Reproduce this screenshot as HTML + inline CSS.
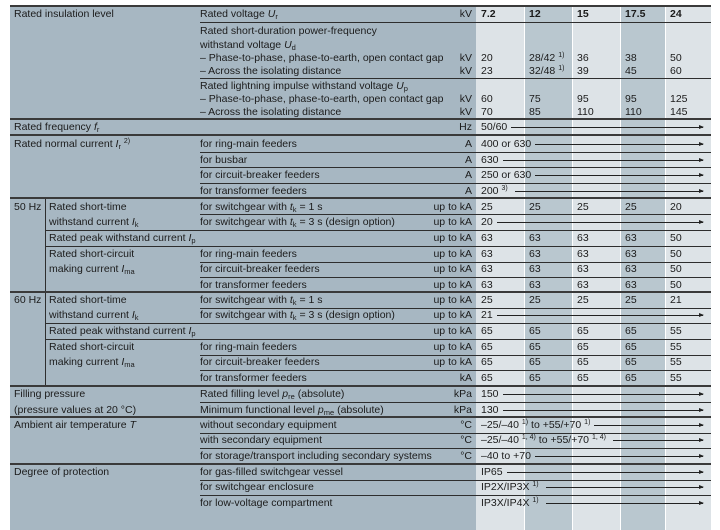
<!DOCTYPE html>
<html><head><meta charset="utf-8"><style>
*{margin:0;padding:0;box-sizing:border-box}
body{width:720px;height:530px;background:#fff;position:relative;overflow:hidden;font-family:"Liberation Sans",sans-serif;font-size:10.5px;color:#1b1b1b}
.b{position:absolute}
.t{position:absolute;white-space:nowrap;line-height:14px;height:14px}
.r{position:absolute;white-space:nowrap;line-height:14px;height:14px;right:248px;text-align:right}
.h{position:absolute;height:1px;background:#2e2e2e;right:9px}
.m{position:absolute;height:2px;background:#3a3a3a;right:9px;left:10px}
.a{position:absolute;left:481px;width:222px;display:flex;align-items:center;line-height:14px;height:14px;white-space:nowrap}
.a span{white-space:pre}
.a i{flex:1;height:1px;background:#222;margin-left:4px;position:relative}
.a i:after{content:"";position:absolute;right:-1px;top:-2px;border-left:5px solid #222;border-top:2.5px solid transparent;border-bottom:2.5px solid transparent}
sup{font-size:7px;vertical-align:4px;line-height:0}
sub{font-size:7.5px;vertical-align:-2px;line-height:0}
em{font-style:italic}
</style></head><body>
<div class="b" style="left:10px;top:6px;width:466px;height:524px;background:#a7b7c2"></div>
<div class="b" style="left:476px;top:6px;width:48px;height:524px;background:#dde3e7"></div>
<div class="b" style="left:525px;top:6px;width:47px;height:524px;background:#b9c7cf"></div>
<div class="b" style="left:573px;top:6px;width:47px;height:524px;background:#dde3e7"></div>
<div class="b" style="left:621px;top:6px;width:44px;height:524px;background:#b9c7cf"></div>
<div class="b" style="left:666px;top:6px;width:45px;height:524px;background:#dde3e7"></div>
<div class="b" style="left:45px;top:198px;width:1px;height:188px;background:#2e2e2e"></div>

<div class="m" style="top:5px"></div>
<div class="h" style="top:22px;left:200px"></div>
<div class="h" style="top:78px;left:200px"></div>
<div class="m" style="top:118px"></div>
<div class="m" style="top:134px"></div>
<div class="h" style="top:152px;left:200px"></div>
<div class="h" style="top:167px;left:200px"></div>
<div class="h" style="top:183px;left:200px"></div>
<div class="m" style="top:197px"></div>
<div class="h" style="top:214px;left:200px"></div>
<div class="h" style="top:230px;left:45px"></div>
<div class="h" style="top:246px;left:45px"></div>
<div class="h" style="top:262px;left:200px"></div>
<div class="h" style="top:277px;left:200px"></div>
<div class="m" style="top:291px"></div>
<div class="h" style="top:308px;left:200px"></div>
<div class="h" style="top:323px;left:45px"></div>
<div class="h" style="top:339px;left:45px"></div>
<div class="h" style="top:355px;left:200px"></div>
<div class="h" style="top:370px;left:200px"></div>
<div class="m" style="top:385px"></div>
<div class="h" style="top:402px;left:200px"></div>
<div class="m" style="top:416px"></div>
<div class="h" style="top:433px;left:200px"></div>
<div class="h" style="top:448px;left:200px"></div>
<div class="m" style="top:463px"></div>
<div class="h" style="top:480px;left:200px"></div>
<div class="h" style="top:495px;left:200px"></div>

<div class="t" style="left:14px;top:7px">Rated insulation level</div>
<div class="t" style="left:200px;top:7px">Rated voltage <em>U</em><sub>r</sub></div>
<div class="r" style="top:7px">kV</div>
<div class="t" style="left:481px;top:7px;font-weight:bold">7.2</div>
<div class="t" style="left:529px;top:7px;font-weight:bold">12</div>
<div class="t" style="left:577px;top:7px;font-weight:bold">15</div>
<div class="t" style="left:625px;top:7px;font-weight:bold">17.5</div>
<div class="t" style="left:670px;top:7px;font-weight:bold">24</div>

<div class="t" style="left:200px;top:24px">Rated short-duration power-frequency</div>
<div class="t" style="left:200px;top:38px">withstand voltage <em>U</em><sub>d</sub></div>
<div class="t" style="left:200px;top:51px">– Phase-to-phase, phase-to-earth, open contact gap</div>
<div class="r" style="top:51px">kV</div>
<div class="t" style="left:481px;top:51px">20</div><div class="t" style="left:529px;top:51px">28/42 <sup>1)</sup></div><div class="t" style="left:577px;top:51px">36</div><div class="t" style="left:625px;top:51px">38</div><div class="t" style="left:670px;top:51px">50</div>
<div class="t" style="left:200px;top:64px">– Across the isolating distance</div>
<div class="r" style="top:64px">kV</div>
<div class="t" style="left:481px;top:64px">23</div><div class="t" style="left:529px;top:64px">32/48 <sup>1)</sup></div><div class="t" style="left:577px;top:64px">39</div><div class="t" style="left:625px;top:64px">45</div><div class="t" style="left:670px;top:64px">60</div>
<div class="t" style="left:200px;top:79px">Rated lightning impulse withstand voltage <em>U</em><sub>p</sub></div>
<div class="t" style="left:200px;top:92px">– Phase-to-phase, phase-to-earth, open contact gap</div>
<div class="r" style="top:92px">kV</div>
<div class="t" style="left:481px;top:92px">60</div><div class="t" style="left:529px;top:92px">75</div><div class="t" style="left:577px;top:92px">95</div><div class="t" style="left:625px;top:92px">95</div><div class="t" style="left:670px;top:92px">125</div>
<div class="t" style="left:200px;top:105px">– Across the isolating distance</div>
<div class="r" style="top:105px">kV</div>
<div class="t" style="left:481px;top:105px">70</div><div class="t" style="left:529px;top:105px">85</div><div class="t" style="left:577px;top:105px">110</div><div class="t" style="left:625px;top:105px">110</div><div class="t" style="left:670px;top:105px">145</div>

<div class="t" style="left:14px;top:120px">Rated frequency <em>f</em><sub>r</sub></div>
<div class="r" style="top:120px">Hz</div><div class="a" style="top:120px"><span>50/60</span><i></i></div>

<div class="t" style="left:14px;top:137px">Rated normal current <em>I</em><sub>r</sub> <sup>2)</sup></div>
<div class="t" style="left:200px;top:137px">for ring-main feeders</div><div class="r" style="top:137px">A</div><div class="a" style="top:137px"><span>400 or 630</span><i></i></div>
<div class="t" style="left:200px;top:153px">for busbar</div><div class="r" style="top:153px">A</div><div class="a" style="top:153px"><span>630</span><i></i></div>
<div class="t" style="left:200px;top:168px">for circuit-breaker feeders</div><div class="r" style="top:168px">A</div><div class="a" style="top:168px"><span>250 or 630</span><i></i></div>
<div class="t" style="left:200px;top:184px">for transformer feeders</div><div class="r" style="top:184px">A</div><div class="a" style="top:184px"><span>200 <sup>3)</sup> </span><i></i></div>

<div class="t" style="left:14px;top:200px">50 Hz</div>
<div class="t" style="left:49px;top:200px">Rated short-time</div>
<div class="t" style="left:49px;top:215px">withstand current <em>I</em><sub>k</sub></div>
<div class="t" style="left:200px;top:200px">for switchgear with <em>t</em><sub>k</sub> = 1 s</div><div class="r" style="top:200px">up to kA</div>
<div class="t" style="left:481px;top:200px">25</div><div class="t" style="left:529px;top:200px">25</div><div class="t" style="left:577px;top:200px">25</div><div class="t" style="left:625px;top:200px">25</div><div class="t" style="left:670px;top:200px">20</div>
<div class="t" style="left:200px;top:215px">for switchgear with <em>t</em><sub>k</sub> = 3 s (design option)</div><div class="r" style="top:215px">up to kA</div><div class="a" style="top:215px"><span>20</span><i></i></div>
<div class="t" style="left:49px;top:231px">Rated peak withstand current <em>I</em><sub>p</sub></div><div class="r" style="top:231px">up to kA</div>
<div class="t" style="left:481px;top:231px">63</div><div class="t" style="left:529px;top:231px">63</div><div class="t" style="left:577px;top:231px">63</div><div class="t" style="left:625px;top:231px">63</div><div class="t" style="left:670px;top:231px">50</div>
<div class="t" style="left:49px;top:247px">Rated short-circuit</div>
<div class="t" style="left:49px;top:262px">making current <em>I</em><sub>ma</sub></div>
<div class="t" style="left:200px;top:247px">for ring-main feeders</div><div class="r" style="top:247px">up to kA</div>
<div class="t" style="left:481px;top:247px">63</div><div class="t" style="left:529px;top:247px">63</div><div class="t" style="left:577px;top:247px">63</div><div class="t" style="left:625px;top:247px">63</div><div class="t" style="left:670px;top:247px">50</div>
<div class="t" style="left:200px;top:262px">for circuit-breaker feeders</div><div class="r" style="top:262px">up to kA</div>
<div class="t" style="left:481px;top:262px">63</div><div class="t" style="left:529px;top:262px">63</div><div class="t" style="left:577px;top:262px">63</div><div class="t" style="left:625px;top:262px">63</div><div class="t" style="left:670px;top:262px">50</div>
<div class="t" style="left:200px;top:278px">for transformer feeders</div><div class="r" style="top:278px">up to kA</div>
<div class="t" style="left:481px;top:278px">63</div><div class="t" style="left:529px;top:278px">63</div><div class="t" style="left:577px;top:278px">63</div><div class="t" style="left:625px;top:278px">63</div><div class="t" style="left:670px;top:278px">50</div>

<div class="t" style="left:14px;top:293px">60 Hz</div>
<div class="t" style="left:49px;top:293px">Rated short-time</div>
<div class="t" style="left:49px;top:308px">withstand current <em>I</em><sub>k</sub></div>
<div class="t" style="left:200px;top:293px">for switchgear with <em>t</em><sub>k</sub> = 1 s</div><div class="r" style="top:293px">up to kA</div>
<div class="t" style="left:481px;top:293px">25</div><div class="t" style="left:529px;top:293px">25</div><div class="t" style="left:577px;top:293px">25</div><div class="t" style="left:625px;top:293px">25</div><div class="t" style="left:670px;top:293px">21</div>
<div class="t" style="left:200px;top:308px">for switchgear with <em>t</em><sub>k</sub> = 3 s (design option)</div><div class="r" style="top:308px">up to kA</div><div class="a" style="top:308px"><span>21</span><i></i></div>
<div class="t" style="left:49px;top:324px">Rated peak withstand current <em>I</em><sub>p</sub></div><div class="r" style="top:324px">up to kA</div>
<div class="t" style="left:481px;top:324px">65</div><div class="t" style="left:529px;top:324px">65</div><div class="t" style="left:577px;top:324px">65</div><div class="t" style="left:625px;top:324px">65</div><div class="t" style="left:670px;top:324px">55</div>
<div class="t" style="left:49px;top:340px">Rated short-circuit</div>
<div class="t" style="left:49px;top:355px">making current <em>I</em><sub>ma</sub></div>
<div class="t" style="left:200px;top:340px">for ring-main feeders</div><div class="r" style="top:340px">up to kA</div>
<div class="t" style="left:481px;top:340px">65</div><div class="t" style="left:529px;top:340px">65</div><div class="t" style="left:577px;top:340px">65</div><div class="t" style="left:625px;top:340px">65</div><div class="t" style="left:670px;top:340px">55</div>
<div class="t" style="left:200px;top:355px">for circuit-breaker feeders</div><div class="r" style="top:355px">up to kA</div>
<div class="t" style="left:481px;top:355px">65</div><div class="t" style="left:529px;top:355px">65</div><div class="t" style="left:577px;top:355px">65</div><div class="t" style="left:625px;top:355px">65</div><div class="t" style="left:670px;top:355px">55</div>
<div class="t" style="left:200px;top:371px">for transformer feeders</div><div class="r" style="top:371px">kA</div>
<div class="t" style="left:481px;top:371px">65</div><div class="t" style="left:529px;top:371px">65</div><div class="t" style="left:577px;top:371px">65</div><div class="t" style="left:625px;top:371px">65</div><div class="t" style="left:670px;top:371px">55</div>

<div class="t" style="left:14px;top:387px">Filling pressure</div>
<div class="t" style="left:14px;top:403px">(pressure values at 20 °C)</div>
<div class="t" style="left:200px;top:387px">Rated filling level <em>p</em><sub>re</sub> (absolute)</div><div class="r" style="top:387px">kPa</div><div class="a" style="top:387px"><span>150</span><i></i></div>
<div class="t" style="left:200px;top:403px">Minimum functional level <em>p</em><sub>me</sub> (absolute)</div><div class="r" style="top:403px">kPa</div><div class="a" style="top:403px"><span>130</span><i></i></div>

<div class="t" style="left:14px;top:418px">Ambient air temperature <em>T</em></div>
<div class="t" style="left:200px;top:418px">without secondary equipment</div><div class="r" style="top:418px">°C</div><div class="a" style="top:418px"><span>–25/–40 <sup>1)</sup> to +55/+70 <sup>1)</sup></span><i></i></div>
<div class="t" style="left:200px;top:433px">with secondary equipment</div><div class="r" style="top:433px">°C</div><div class="a" style="top:433px"><span>–25/–40 <sup>1, 4)</sup> to +55/+70 <sup>1, 4)</sup> </span><i></i></div>
<div class="t" style="left:200px;top:449px">for storage/transport including secondary systems</div><div class="r" style="top:449px">°C</div><div class="a" style="top:449px"><span>–40 to +70</span><i></i></div>

<div class="t" style="left:14px;top:465px">Degree of protection</div>
<div class="t" style="left:200px;top:465px">for gas-filled switchgear vessel</div><div class="a" style="top:465px"><span>IP65</span><i></i></div>
<div class="t" style="left:200px;top:480px">for switchgear enclosure</div><div class="a" style="top:480px"><span>IP2X/IP3X <sup>1)</sup> </span><i></i></div>
<div class="t" style="left:200px;top:496px">for low-voltage compartment</div><div class="a" style="top:496px"><span>IP3X/IP4X <sup>1)</sup> </span><i></i></div>
</body></html>
